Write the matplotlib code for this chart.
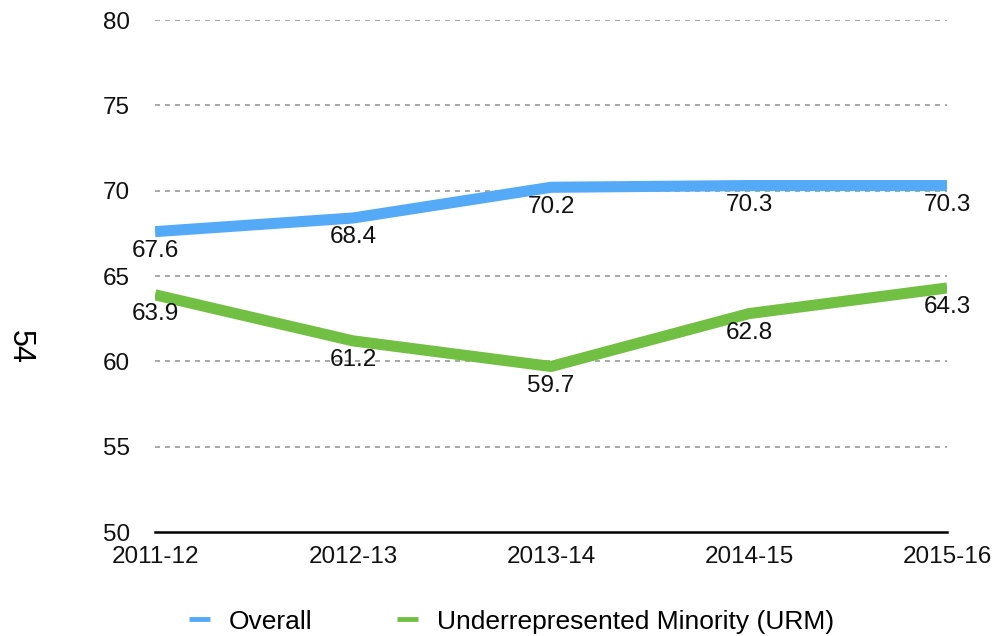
import matplotlib.pyplot as plt

years = ['2011-12', '2012-13', '2013-14', '2014-15', '2015-16']
overall = [67.6, 68.4, 70.2, 70.3, 70.3]
urm = [63.9, 61.2, 59.7, 62.8, 64.3]

plt.rcParams['font.family'] = ['Liberation Sans', 'DejaVu Sans']

fig = plt.figure(figsize=(9.97, 6.36), dpi=100)
ax = fig.add_axes([0.1555, 0.1635, 0.7945, 0.805])

x = list(range(len(years)))
blue = '#55aaf8'
green = '#72c043'
ax.plot(x, overall, color=blue, lw=8, label='Overall', solid_capstyle='butt')
ax.plot(x, urm, color=green, lw=8, label='Underrepresented Minority (URM)', solid_capstyle='butt')

for xi, v in zip(x, overall):
    ax.annotate(f'{v}', (xi, v), xytext=(0, -6), textcoords='offset points',
                ha='center', va='top', fontsize=17.5, color='#111111')
for xi, v in zip(x, urm):
    ax.annotate(f'{v}', (xi, v), xytext=(0, -6), textcoords='offset points',
                ha='center', va='top', fontsize=17.5, color='#111111')

ax.set_xlim(0, len(years) - 1)
ax.set_ylim(50, 80)
ax.set_yticks([50, 55, 60, 65, 70, 75, 80])
ax.set_xticks(x)
ax.set_xticklabels(years)
ax.tick_params(length=0, labelsize=17.5, colors='#111111')
ax.tick_params(axis='y', pad=18)
ax.tick_params(axis='x', pad=10)

for yv in [55, 60, 65, 70, 75, 80]:
    ax.axhline(yv, color='#999999', lw=1.2, ls=(0, (3, 3)), zorder=0)

for s in ['top', 'right', 'left']:
    ax.spines[s].set_visible(False)
ax.spines['bottom'].set_color('black')
ax.spines['bottom'].set_linewidth(1.8)

fig.text(0.02, 0.455, '54', rotation=270, fontsize=22, ha='center', va='center')

leg = ax.legend(loc='upper center', bbox_to_anchor=(0.45, -0.105), ncol=2, frameon=False,
                fontsize=19, handlelength=0.8, columnspacing=3.2, handletextpad=0.7)
for h in leg.get_lines():
    h.set_linewidth(3.5)

fig.savefig('out.png', dpi=100)
